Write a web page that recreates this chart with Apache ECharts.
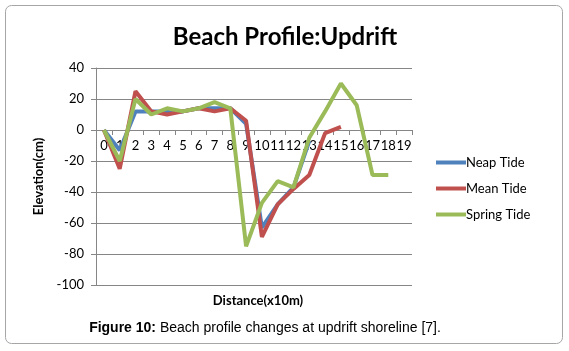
<!DOCTYPE html>
<html>
<head>
<meta charset="utf-8">
<script src="https://cdn.jsdelivr.net/npm/echarts@6/dist/echarts.min.js"></script>
<style>
html,body{margin:0;padding:0;background:#fff;}
#c{width:569px;height:351px;}
</style>
</head>
<body>
<div id="c"></div>
<script>
var categories = ['0','1','2','3','4','5','6','7','8','9','10','11','12','13','14','15','16','17','18','19'];
var neapTide   = [0, -13, 12, 12, 12, 12, 14, 14, 14, 4, -63, -48, -37, -7];
var meanTide   = [0, -25, 25, 12, 10, 12, 14, 12, 14, 6, -69, -48, -38, -29, -2, 2];
var springTide = [0, -20, 20, 10, 14, 12, 14, 18, 14, -75, -47, -33, -37, -5, 12, 30, 16, -29, -29];
var yTicks = {min: -100, max: 40, step: 20};

var font = 'Lato, "Open Sans", sans-serif';
var gridTop = 68, gridBottom = 66, chartH = 351;
var plotH = chartH - gridTop - gridBottom;
var zeroOffset = -plotH * (0 - yTicks.min) / (yTicks.max - yTicks.min);

var chart = echarts.init(document.getElementById('c'), null, {renderer: 'canvas'});
chart.setOption({
  backgroundColor: '#fff',
  animation: false,
  graphic: [{
    type: 'rect', shape: {x: 5.5, y: 5.5, width: 557, height: 338, r: 6},
    style: {fill: 'none', stroke: '#a6a6a6', lineWidth: 1}
  }],
  title: [
    {text: 'Beach Profile:Updrift', left: 280, top: 20, textAlign: 'center',
     textStyle: {fontFamily: font, fontSize: 24, fontWeight: 'bold', color: '#000'}},
    {text: 'Distance(x10m)', left: 253, top: 289, textAlign: 'center',
     textStyle: {fontFamily: font, fontSize: 13, fontWeight: 'bold', color: '#000'}},
    {text: '{b|Figure 10:} Beach profile changes at updrift shoreline [7].', left: 260, top: 316, textAlign: 'center',
     textStyle: {fontFamily: '"Liberation Sans", Arial, sans-serif', fontSize: 14, fontWeight: 'normal', color: '#000',
       rich: {b: {fontFamily: '"Liberation Sans", Arial, sans-serif', fontSize: 14, fontWeight: 'bold', color: '#000'}}}}
  ],
  legend: {
    orient: 'vertical', left: 431, top: 151, itemGap: 13,
    icon: 'rect', itemWidth: 30, itemHeight: 4,
    textStyle: {fontFamily: font, fontSize: 13, color: '#000', padding: [0,0,0,-5]},
    data: ['Neap Tide', 'Mean Tide', 'Spring Tide']
  },
  grid: {left: 96, right: 157, top: gridTop, bottom: gridBottom},
  xAxis: {
    type: 'category', data: categories, boundaryGap: true,
    position: 'bottom', offset: zeroOffset,
    axisLine: {onZero: false, lineStyle: {color: '#868686', width: 1}},
    axisTick: {show: true, inside: false, length: 5, lineStyle: {color: '#868686'}},
    axisLabel: {interval: 0, fontFamily: font, fontSize: 13, color: '#000', margin: 9},
    splitLine: {show: false}
  },
  yAxis: {
    type: 'value', min: yTicks.min, max: yTicks.max, interval: yTicks.step,
    name: 'Elevation(cm)', nameLocation: 'middle', nameGap: 49, nameRotate: 90,
    nameTextStyle: {fontFamily: font, fontSize: 13, fontWeight: 'bold', color: '#000'},
    axisLine: {show: true, lineStyle: {color: '#868686'}},
    axisTick: {show: true, length: 5, lineStyle: {color: '#868686'}},
    axisLabel: {fontFamily: font, fontSize: 13, color: '#000', margin: 12},
    splitLine: {show: true, lineStyle: {color: '#868686', width: 1}}
  },
  series: [
    {name: 'Neap Tide', type: 'line', data: neapTide, showSymbol: false, symbol: 'none',
     color: '#4F81BD', lineStyle: {width: 4, color: '#4F81BD'}},
    {name: 'Mean Tide', type: 'line', data: meanTide, showSymbol: false, symbol: 'none',
     color: '#C0504D', lineStyle: {width: 4, color: '#C0504D'}},
    {name: 'Spring Tide', type: 'line', data: springTide, showSymbol: false, symbol: 'none',
     color: '#9BBB59', lineStyle: {width: 4, color: '#9BBB59'}}
  ]
});
</script>
</body>
</html>
